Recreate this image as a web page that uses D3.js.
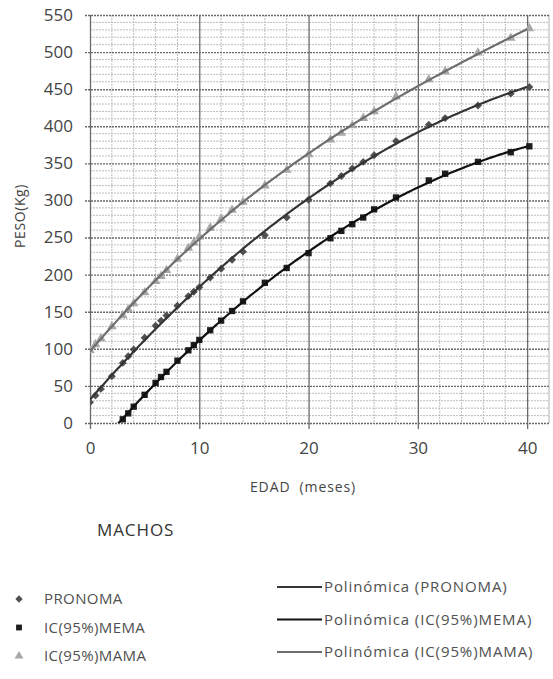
<!DOCTYPE html>
<html>
<head>
<meta charset="utf-8">
<script src="https://cdn.jsdelivr.net/npm/d3@7"></script>
<style>
  body { margin: 0; background: #fff; }
  svg text { font-family: "Open Sans", sans-serif; }
</style>
</head>
<body>
<svg id="chart" width="553" height="679"></svg>
<script>
'use strict';

// Ages (months) at which weights were recorded.
var edad = [0, 0.5, 1, 2, 3, 3.5, 4, 5, 6, 6.5, 7, 8, 9, 9.5, 10, 11, 12, 13,
  14, 16, 18, 20, 22, 23, 24, 25, 26, 28, 31, 32.5, 35.5, 38.5, 40.2];

// Weight (kg) per age.
var pronoma = [28, 37, 46, 63, 81, 90, 99, 115, 131, 138, 145, 158, 171, 177,
  183, 196, 208, 220, 231, 253, 277, 301, 323, 333, 343, 352, 361, 380, 402,
  411, 428, 444, 453];
var mema = [null, null, null, null, 5, 13, 22, 38, 54, 62, 69, 84, 98, 105,
  112, 125, 138, 151, 164, 189, 209, 229, 249, 259, 268, 277, 288, 304, 327,
  336, 352, 365, 373];
var mama = [98, 106, 114, 130, 145, 153, 161, 176, 191, 198, 206, 221, 236,
  243, 251, 263, 275, 287, 298, 320, 341, 362, 382, 391, 401, 411, 420, 440,
  463, 474, 499, 519, 532];

var yTicks = [0, 50, 100, 150, 200, 250, 300, 350, 400, 450, 500, 550];
var xTicks = [0, 10, 20, 30, 40];

var series = [
  {name: 'PRONOMA', values: pronoma, symbol: d3.symbolDiamond2,
    fill: '#505050', line: '#353535', trend: 'Polinómica (PRONOMA)'},
  {name: 'IC(95%)MEMA', values: mema, symbol: d3.symbolSquare,
    fill: '#1e1e1e', line: '#111', trend: 'Polinómica (IC(95%)MEMA)'},
  {name: 'IC(95%)MAMA', values: mama, symbol: d3.symbolTriangle,
    fill: '#a8a8a8', line: '#6e6e6e', trend: 'Polinómica (IC(95%)MAMA)'}
];

/**
  Least squares polynomial fit (Excel "Polinómica" trendline).
  Returns coefficients c[0] + c[1]x + c[2]x^2 + ...
 */
function polyfit(xs, ys, deg) {
  var n = deg + 1, A = [], i, j, k;
  for (i = 0; i < n; i++) {
    A.push([]);
    for (j = 0; j <= n; j++) { A[i].push(0); }
  }
  xs.forEach(function(xv, p) {
    for (i = 0; i < n; i++) {
      for (j = 0; j < n; j++) { A[i][j] += Math.pow(xv, i + j); }
      A[i][n] += ys[p] * Math.pow(xv, i);
    }
  });
  // Gaussian elimination.
  for (i = 0; i < n; i++) {
    var piv = i;
    for (k = i + 1; k < n; k++) {
      if (Math.abs(A[k][i]) > Math.abs(A[piv][i])) { piv = k; }
    }
    var tmp = A[i]; A[i] = A[piv]; A[piv] = tmp;
    for (k = i + 1; k < n; k++) {
      var f = A[k][i] / A[i][i];
      for (j = i; j <= n; j++) { A[k][j] -= f * A[i][j]; }
    }
  }
  var c = new Array(n);
  for (i = n - 1; i >= 0; i--) {
    var s = A[i][n];
    for (j = i + 1; j < n; j++) { s -= A[i][j] * c[j]; }
    c[i] = s / A[i][i];
  }
  return c;
}

var svg = d3.select('#chart');
var plotLeft = 90, plotRight = 549, plotTop = 15, plotBottom = 423;

var x = d3.scaleLinear().domain([0, 42]).range([plotLeft, plotRight]);
var y = d3.scaleLinear().domain([0, 550]).range([plotBottom, plotTop]);

svg.append('defs').append('clipPath').attr('id', 'plot-clip')
  .append('rect')
  .attr('x', plotLeft).attr('y', plotTop)
  .attr('width', plotRight - plotLeft).attr('height', plotBottom - plotTop);

// Minor grid.
var grid = svg.append('g').attr('class', 'grid');
grid.selectAll('line.hminor')
  .data(d3.range(10, 550, 10).filter(function(v) { return v % 50; }))
  .enter().append('line')
  .attr('x1', plotLeft).attr('x2', plotRight)
  .attr('y1', function(d) { return y(d); })
  .attr('y2', function(d) { return y(d); })
  .attr('stroke', '#bdbdbd').attr('stroke-dasharray', '2,1');
grid.selectAll('line.vminor')
  .data(d3.range(2, 42, 2).filter(function(v) { return v % 10; }))
  .enter().append('line')
  .attr('y1', plotTop).attr('y2', plotBottom)
  .attr('x1', function(d) { return x(d); })
  .attr('x2', function(d) { return x(d); })
  .attr('stroke', '#bdbdbd').attr('stroke-dasharray', '2,1');
grid.append('line')
  .attr('x1', plotRight).attr('x2', plotRight)
  .attr('y1', plotTop).attr('y2', plotBottom)
  .attr('stroke', '#b0b0b0');

// Major grid plus tick labels through the axes.
var yAxis = svg.append('g')
  .attr('transform', 'translate(' + plotLeft + ',0)')
  .call(d3.axisLeft(y).tickValues(yTicks)
    .tickSizeInner(-(plotRight - plotLeft)).tickSizeOuter(0).tickPadding(17));
yAxis.select('.domain').remove();
yAxis.selectAll('.tick line')
  .attr('x1', -5)
  .attr('stroke', '#6a6a6a').attr('stroke-width', 1.4)
  .attr('stroke-dasharray', '2,1');
yAxis.selectAll('.tick text')
  .style('font-size', '17px').attr('fill', '#444');

var xAxis = svg.append('g')
  .attr('transform', 'translate(0,' + plotBottom + ')')
  .call(d3.axisBottom(x).tickValues(xTicks)
    .tickSizeInner(-(plotBottom - plotTop)).tickSizeOuter(0).tickPadding(19));
xAxis.select('.domain').remove();
xAxis.selectAll('.tick line')
  .attr('y1', 6)
  .attr('stroke', '#6a6a6a').attr('stroke-width', 1.3);
xAxis.selectAll('.tick text')
  .style('font-size', '17px').attr('fill', '#444');

// Trendlines and markers.
var plot = svg.append('g').attr('clip-path', 'url(#plot-clip)');
var line = d3.line()
  .x(function(d) { return x(d[0]); })
  .y(function(d) { return y(d[1]); })
  .curve(d3.curveMonotoneX);

series.forEach(function(s) {
  var pts = edad.map(function(e, i) { return [e, s.values[i]]; })
    .filter(function(p) { return p[1] !== null; });
  var c = polyfit(pts.map(function(p) { return p[0]; }),
                  pts.map(function(p) { return p[1]; }), 3);
  var xs = d3.range(0, d3.max(edad) + 0.01, 0.25);
  var fit = xs.map(function(v) {
    return [v, c[0] + c[1] * v + c[2] * v * v + c[3] * v * v * v];
  });

  plot.selectAll(null).data(pts).enter().append('path')
    .attr('d', d3.symbol().type(s.symbol).size(40))
    .attr('transform', function(p) {
      return 'translate(' + x(p[0]) + ',' + y(p[1]) + ')';
    })
    .attr('fill', s.fill);

  plot.append('path')
    .datum(fit)
    .attr('d', line)
    .attr('fill', 'none')
    .attr('stroke', s.line)
    .attr('stroke-width', 2.2);
});

// Axis titles.
svg.append('text')
  .attr('transform', 'translate(25,216) rotate(-90)')
  .attr('text-anchor', 'middle')
  .style('font-size', '14px')
  .style('letter-spacing', '0.6px')
  .attr('fill', '#444')
  .text('PESO(Kg)');
svg.append('text')
  .attr('x', 303).attr('y', 492)
  .attr('text-anchor', 'middle')
  .style('font-size', '14px')
  .style('letter-spacing', '0.9px')
  .style('white-space', 'pre')
  .attr('fill', '#444')
  .text('EDAD  (meses)');

svg.append('text')
  .attr('x', 97).attr('y', 536)
  .style('font-size', '17px')
  .style('letter-spacing', '0.9px')
  .attr('fill', '#333')
  .text('MACHOS');

// Legend: markers on the left, trendlines on the right.
var legMarks = svg.append('g');
series.forEach(function(s, i) {
  var ly = 599 + i * 28.5;
  legMarks.append('path')
    .attr('d', d3.symbol().type(s.symbol).size(34))
    .attr('transform', 'translate(19,' + ly + ')')
    .attr('fill', s.fill);
  legMarks.append('text')
    .attr('x', 44).attr('y', ly + 5)
    .style('font-size', '15px')
    .style('letter-spacing', '0.4px')
    .attr('fill', '#505050')
    .text(s.name);

  var ry = 587 + i * 32.5;
  legMarks.append('line')
    .attr('x1', 277).attr('x2', 322)
    .attr('y1', ry).attr('y2', ry)
    .attr('stroke', s.line).attr('stroke-width', 2);
  legMarks.append('text')
    .attr('x', 324).attr('y', ry + 5)
    .style('font-size', '15px')
    .style('letter-spacing', '0.9px')
    .attr('fill', '#505050')
    .text(s.trend);
});
</script>
</body>
</html>
